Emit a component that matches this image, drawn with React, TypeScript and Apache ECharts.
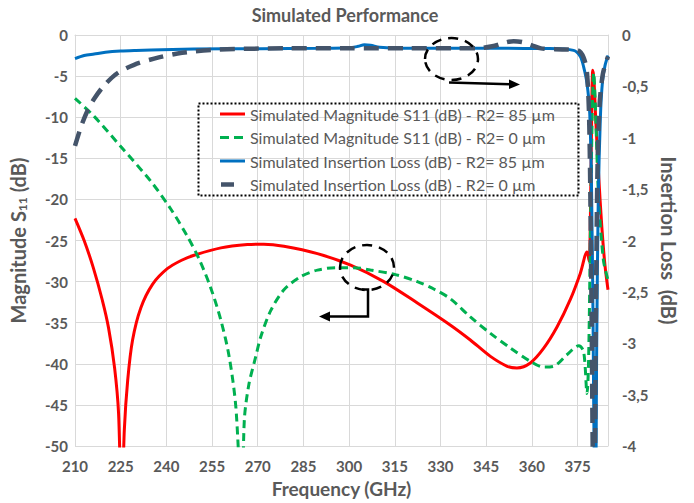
import React, { useEffect, useRef } from "react";
import * as echarts from "echarts";

const FONT = "Lato";
const GRAY = "#595959";
const GRID = "#D9D9D9";

const legendNames = [
  "Simulated Magnitude S11 (dB) - R2= 85 µm",
  "Simulated Magnitude S11 (dB) - R2= 0 µm",
  "Simulated Insertion Loss (dB) - R2= 85 µm",
  "Simulated Insertion Loss (dB) - R2= 0 µm",
];

// S11, R2 = 85 um (left axis, dB)
const freqS11_85 = [210, 213, 216, 219, 221, 223, 224.3, 225.3, 226.2, 227.3, 228.9, 231.6, 235.5, 240.4, 245, 249.1, 257.9, 266.6, 272, 278.6, 289.6, 300.5, 311.4, 322.4, 333.3, 339.8, 346.4, 351.9, 355.1, 359.5, 363.9, 368.3, 372.6, 375.9, 378.1, 378.8, 379.3, 379.7, 380.0, 380.4, 381, 382, 383, 384, 385];
const s11_85 = [-22.3, -25, -28.3, -32.3, -35.6, -40.5, -46, -58, -48, -42, -37.1, -33.2, -30.3, -28.4, -27.4, -26.8, -25.9, -25.5, -25.45, -25.7, -26.6, -28.0, -30.0, -32.6, -35.3, -37.1, -39.1, -40.3, -40.5, -39.9, -38.1, -35.5, -32.2, -29.0, -26.4, -27.5, -20, -8, -4.3, -5.5, -10.5, -17.5, -23.5, -28, -31];

// S11, R2 = 0 um (left axis, dB)
const freqS11_0 = [210, 216.3, 225.1, 234.9, 241.5, 246.9, 250.8, 254.6, 257.9, 260.6, 262.8, 264.8, 265.6, 267.1, 269.3, 271, 274.3, 278.6, 284.1, 289.6, 296.1, 301.6, 307, 314.7, 322.4, 327.8, 333.3, 339.8, 346.4, 353, 359.5, 363.9, 367.2, 371.5, 375.4, 377, 378.1, 378.6, 379.2, 379.8, 380.3, 380.8, 381.9, 383.5, 385];
const s11_0 = [-7.7, -9.9, -13.6, -17.8, -21.2, -24.5, -27.3, -30.8, -34.7, -39.1, -45.2, -58, -46.8, -42.5, -39.2, -36.7, -33.5, -31.0, -29.4, -28.6, -28.3, -28.3, -28.6, -29.1, -30.0, -30.9, -32.1, -34.3, -36.3, -38.1, -39.7, -40.4, -40.3, -38.9, -37.8, -38.5, -43.6, -40, -25, -10, -4.6, -8, -19.7, -27.4, -29.8];

// Insertion loss, R2 = 85 um (right axis, dB)
const freqIL_85 = [210, 213, 216.3, 220, 225, 230, 235, 249, 271, 290, 300, 303, 305, 307, 310, 315, 330, 350, 365, 373.7, 375.9, 377, 378.1, 379, 379.6, 380.1, 380.5, 380.9, 381.3, 381.8, 382.5, 383.2, 384, 385];
const il_85 = [-0.23, -0.2, -0.185, -0.168, -0.156, -0.15, -0.146, -0.137, -0.133, -0.13, -0.125, -0.11, -0.095, -0.1, -0.12, -0.128, -0.128, -0.13, -0.132, -0.15, -0.21, -0.31, -0.47, -0.76, -1.5, -2.8, -4.2, -4.5, -3.0, -1.6, -0.8, -0.45, -0.3, -0.2];

// Insertion loss, R2 = 0 um (right axis, dB)
const freqIL_0 = [210, 212, 214.2, 216.3, 219.6, 224, 229.4, 236, 243.7, 254.6, 265.5, 280, 300, 320, 335, 342, 347, 351, 354, 357, 360, 363, 370, 375, 377, 378.1, 378.8, 379.3, 379.7, 380.1, 380.5, 381, 381.5, 382.2, 383.3, 385];
const il_0 = [-1.08, -0.89, -0.73, -0.62, -0.49, -0.37, -0.29, -0.23, -0.18, -0.147, -0.135, -0.13, -0.13, -0.13, -0.13, -0.13, -0.11, -0.075, -0.06, -0.07, -0.1, -0.13, -0.14, -0.15, -0.22, -0.37, -0.8, -1.8, -3.0, -4.3, -4.5, -2.8, -1.4, -0.7, -0.38, -0.21];

const zip = (xs: number[], ys: number[]) => xs.map((x, i) => [x, ys[i]]);

// legend icons: 25 x 14 boxes (tiny corner anchors keep the box)
const ANCHORS = "M0,0h0.01v0.01h-0.01Z M25,14h-0.01v-0.01h0.01Z ";
const ICON_SOLID = "path://" + ANCHORS + "M0,5.5H25V8.5H0Z";
const ICON_DASH = "path://" + ANCHORS + "M0,5.5H9V8.5H0Z M14,5.5H23V8.5H14Z";
const ICON_BIGDASH = "path://" + ANCHORS + "M1,4.8H14V9.2H1Z";
const legendIcons = [ICON_SOLID, ICON_DASH, ICON_SOLID, ICON_BIGDASH];

export default function App() {
  const ref = useRef<HTMLDivElement>(null);
  useEffect(() => {
    if (!ref.current) return;
    const chart = echarts.init(ref.current, null, { renderer: "svg" });
    const arrowStyle = { stroke: "#000", lineWidth: 2.5, fill: "none" };
    chart.setOption({
      animation: false,
      textStyle: { fontFamily: FONT },
      title: {
        text: "Simulated Performance",
        left: 340,
        top: 1,
        textAlign: "center",
        textStyle: { fontFamily: FONT, fontSize: 18, fontWeight: "bold", color: GRAY },
      },
      grid: { left: 74, right: 86, top: 35, bottom: 57 },
      legend: {
        orient: "vertical",
        left: 195,
        top: 103,
        padding: [3, 21, 4, 25],
        itemWidth: 25,
        itemHeight: 14,
        itemGap: 7.5,
        symbolKeepAspect: true,
        data: legendNames.map((n, i) => ({ name: n, icon: legendIcons[i] })),
        textStyle: { fontFamily: FONT, fontSize: 16, color: GRAY },
      },
      xAxis: {
        type: "value",
        min: 210,
        max: 385,
        interval: 15,
        name: "Frequency (GHz)",
        nameLocation: "middle",
        nameGap: 33,
        nameTextStyle: { fontFamily: FONT, fontSize: 19, fontWeight: "bold", color: GRAY },
        axisLine: { show: true, lineStyle: { color: GRID, width: 1 } },
        axisTick: { show: false },
        splitLine: { show: true, lineStyle: { color: GRID, width: 1 } },
        axisLabel: {
          margin: 12,
          fontFamily: FONT,
          fontSize: 15,
          fontWeight: "bold",
          color: GRAY,
          showMaxLabel: false,
        },
      },
      yAxis: [
        {
          type: "value",
          min: -50,
          max: 0,
          interval: 5,
          name: "{a|Magnitude S}{b|11}{a| (dB)}",
          nameLocation: "middle",
          nameGap: 47,
          nameTextStyle: {
            rich: {
              a: { fontFamily: FONT, fontSize: 20, fontWeight: "bold", color: GRAY },
              b: { fontFamily: FONT, fontSize: 12, fontWeight: "bold", color: GRAY, verticalAlign: "bottom", padding: [8, 0, 0, 0] },
            },
          },
          axisLine: { show: true, lineStyle: { color: GRID, width: 1 } },
          axisTick: { show: false },
          splitLine: { show: true, lineStyle: { color: GRID, width: 1 } },
          axisLabel: { margin: 7, fontFamily: FONT, fontSize: 15, fontWeight: "bold", color: GRAY },
        },
        {
          type: "value",
          position: "right",
          min: -4,
          max: 0,
          interval: 0.5,
          name: "Insertion Loss  (dB)",
          nameLocation: "middle",
          nameRotate: -90,
          nameGap: 47,
          nameTextStyle: { fontFamily: FONT, fontSize: 20, fontWeight: "bold", color: GRAY },
          axisLine: { show: true, lineStyle: { color: GRID, width: 1 } },
          axisTick: { show: false },
          splitLine: { show: false },
          axisLabel: {
            margin: 14,
            fontFamily: FONT,
            fontSize: 15,
            fontWeight: "bold",
            color: GRAY,
            formatter: (v: number) => String(v).replace(".", ","),
          },
        },
      ],
      series: [
        {
          name: legendNames[0],
          type: "line",
          yAxisIndex: 0,
          symbol: "none",
          smooth: 0.3,
          data: zip(freqS11_85, s11_85),
          lineStyle: { color: "#FF0000", width: 3 },
          itemStyle: { color: "#FF0000" },
        },
        {
          name: legendNames[1],
          type: "line",
          yAxisIndex: 0,
          symbol: "none",
          smooth: 0.3,
          data: zip(freqS11_0, s11_0),
          lineStyle: { color: "#00B050", width: 3, type: [8, 5] },
          itemStyle: { color: "#00B050" },
        },
        {
          name: legendNames[2],
          type: "line",
          yAxisIndex: 1,
          symbol: "none",
          smooth: 0.3,
          data: zip(freqIL_85, il_85),
          lineStyle: { color: "#0070C0", width: 3 },
          itemStyle: { color: "#0070C0" },
        },
        {
          name: legendNames[3],
          type: "line",
          yAxisIndex: 1,
          symbol: "none",
          smooth: 0.3,
          data: zip(freqIL_0, il_0),
          lineStyle: { color: "#44546A", width: 4.5, type: [15, 9] },
          itemStyle: { color: "#44546A" },
        },
      ],
      graphic: [
        {
          type: "rect",
          shape: { x: 198.5, y: 103.5, width: 380, height: 92 },
          style: { fill: "none", stroke: "#000", lineWidth: 2, lineDash: [2, 2] },
          z: 100,
        },
        {
          type: "ellipse",
          shape: { cx: 451.5, cy: 59, rx: 26.5, ry: 21 },
          style: { fill: "none", stroke: "#000", lineWidth: 2.5, lineDash: [10, 7] },
          z: 100,
        },
        {
          type: "polyline",
          shape: { points: [[449, 82.5], [511, 84.3]] },
          style: arrowStyle,
          z: 100,
        },
        {
          type: "polygon",
          shape: { points: [[520, 84.5], [509, 79.5], [509, 89]] },
          style: { fill: "#000" },
          z: 100,
        },
        {
          type: "ellipse",
          shape: { cx: 367, cy: 267.5, rx: 27, ry: 22.5 },
          style: { fill: "none", stroke: "#000", lineWidth: 2.5, lineDash: [10, 7] },
          z: 100,
        },
        {
          type: "polyline",
          shape: { points: [[362, 289.5], [368, 289.5], [368, 316.5], [328, 316.5]] },
          style: arrowStyle,
          z: 100,
        },
        {
          type: "polygon",
          shape: { points: [[319, 316.5], [330, 311.5], [330, 321.5]] },
          style: { fill: "#000" },
          z: 100,
        },
      ],
    });
    return () => chart.dispose();
  }, []);
  return (
    <div
      ref={ref}
      style={{ position: "absolute", left: 0, top: 0, width: 694, height: 503, background: "#fff" }}
    />
  );
}
